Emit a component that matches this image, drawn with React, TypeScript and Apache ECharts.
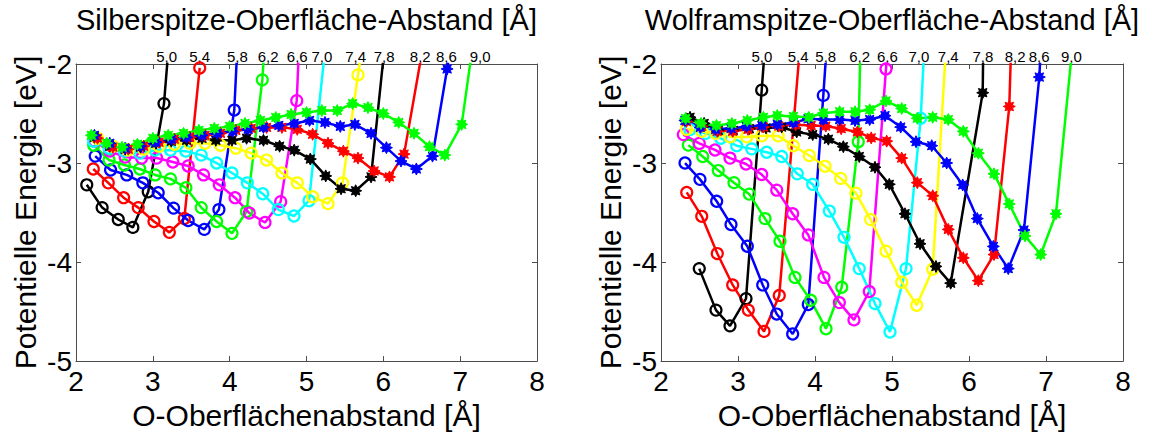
import React, { useEffect, useRef } from 'react';
import * as echarts from 'echarts';

type P = [number, number][];

// Tip–surface distances (curve labels) and styling per curve
const tipLabels = ['5,0', '5,4', '5,8', '6,2', '6,6', '7,0', '7,4', '7,8', '8,2', '8,6', '9,0'];
const curveColors = ['#000000', '#ff0000', '#0000ff', '#00ff00', '#ff00ff', '#00ffff', '#ffff00', '#000000', '#ff0000', '#0000ff', '#00ff00'];
const curveMarkers = ['o', 'o', 'o', 'o', 'o', 'o', 'o', '*', '*', '*', '*'];

// Silver tip (left panel): [O–surface distance Å, energy eV]
const ag50: P = [[2.14, -3.22], [2.34, -3.45], [2.55, -3.57], [2.74, -3.65], [2.94, -3.29], [3.145, -2.4], [3.24, -1.5]];
const ag54: P = [[2.225, -3.06], [2.42, -3.2], [2.62, -3.35], [2.81, -3.45], [3.015, -3.59], [3.215, -3.7], [3.41, -3.56], [3.61, -2.04]];
const ag58: P = [[2.25, -2.93], [2.45, -3.07], [2.66, -3.12], [2.87, -3.2], [3.07, -3.3], [3.27, -3.455], [3.46, -3.58], [3.67, -3.67], [3.86, -3.47], [4.06, -2.465], [4.12, -1.5]];
const ag62: P = [[2.23, -2.82], [2.43, -2.97], [2.63, -3.02], [2.83, -3.06], [3.03, -3.12], [3.23, -3.16], [3.43, -3.25], [3.63, -3.45], [3.83, -3.59], [4.03, -3.71], [4.22, -3.49], [4.425, -2.16], [4.48, -1.5]];
const ag66: P = [[2.24, -2.78], [2.44, -2.88], [2.64, -2.94], [2.855, -2.95], [3.05, -2.95], [3.26, -2.99], [3.46, -3.03], [3.66, -3.12], [3.865, -3.22], [4.07, -3.35], [4.256, -3.505], [4.46, -3.6], [4.664, -3.39], [4.873, -2.37], [4.92, -1.5]];
const ag70: P = [[2.23, -2.78], [2.43, -2.85], [2.63, -2.88], [2.83, -2.9], [3.03, -2.87], [3.23, -2.87], [3.43, -2.88], [3.63, -2.92], [3.83, -3.0], [4.03, -3.1], [4.23, -3.2], [4.43, -3.31], [4.633, -3.47], [4.837, -3.535], [5.033, -3.38], [5.29, -1.5]];
const ag74: P = [[2.28, -2.75], [2.48, -2.83], [2.68, -2.87], [2.88, -2.86], [3.08, -2.83], [3.28, -2.81], [3.48, -2.8], [3.68, -2.8], [3.88, -2.82], [4.08, -2.85], [4.28, -2.9], [4.48, -2.97], [4.68, -3.1], [4.88, -3.2], [5.08, -3.34], [5.28, -3.41], [5.47, -3.2], [5.67, -2.11], [5.79, -1.5]];
const ag78: P = [[2.24, -2.74], [2.44, -2.83], [2.64, -2.86], [2.84, -2.84], [3.04, -2.8], [3.24, -2.78], [3.44, -2.77], [3.64, -2.75], [3.82, -2.77], [4.03, -2.77], [4.22, -2.75], [4.44, -2.77], [4.65, -2.83], [4.84, -2.87], [5.05, -2.96], [5.25, -3.13], [5.45, -3.26], [5.64, -3.28], [5.84, -3.14], [6.06, -1.5]];
const ag82: P = [[2.28, -2.75], [2.48, -2.84], [2.68, -2.86], [2.88, -2.83], [3.08, -2.79], [3.28, -2.76], [3.48, -2.74], [3.68, -2.72], [3.88, -2.7], [4.08, -2.67], [4.28, -2.65], [4.48, -2.64], [4.68, -2.64], [4.88, -2.66], [5.08, -2.71], [5.28, -2.8], [5.48, -2.88], [5.67, -2.95], [5.88, -3.08], [6.08, -3.14], [6.27, -2.91], [6.59, -1.5]];
const ag86: P = [[2.24, -2.72], [2.44, -2.8], [2.64, -2.85], [2.84, -2.83], [3.04, -2.79], [3.24, -2.76], [3.44, -2.74], [3.64, -2.72], [3.84, -2.7], [4.04, -2.68], [4.24, -2.66], [4.44, -2.64], [4.64, -2.62], [4.84, -2.6], [5.04, -2.57], [5.24, -2.59], [5.44, -2.63], [5.63, -2.61], [5.84, -2.7], [6.04, -2.845], [6.23, -2.98], [6.43, -3.06], [6.64, -2.93], [6.83, -2.05], [6.95, -1.5]];
const ag90: P = [[2.2, -2.72], [2.4, -2.8], [2.6, -2.84], [2.8, -2.81], [3.0, -2.75], [3.2, -2.72], [3.4, -2.7], [3.6, -2.67], [3.8, -2.65], [4.0, -2.63], [4.2, -2.6], [4.4, -2.57], [4.6, -2.54], [4.8, -2.51], [5.0, -2.49], [5.2, -2.47], [5.4, -2.47], [5.6, -2.4], [5.8, -2.44], [6.0, -2.5], [6.2, -2.59], [6.4, -2.7], [6.6, -2.835], [6.8, -2.92], [7.02, -2.61], [7.22, -1.5]];

// Tungsten tip (right panel)
const w50: P = [[2.497, -4.066], [2.714, -4.485], [2.896, -4.644], [3.104, -4.369], [3.308, -2.264], [3.38, -1.5]];
const w54: P = [[2.334, -3.297], [2.529, -3.538], [2.731, -3.914], [2.931, -4.231], [3.134, -4.485], [3.338, -4.7], [3.536, -4.337], [3.84, -1.5]];
const w58: P = [[2.312, -3.0], [2.506, -3.165], [2.723, -3.386], [2.909, -3.621], [3.121, -3.84], [3.321, -4.231], [3.503, -4.525], [3.71, -4.726], [3.913, -4.429], [4.108, -2.317], [4.18, -1.5]];
const w62: P = [[2.355, -2.819], [2.542, -2.934], [2.744, -3.076], [2.948, -3.198], [3.147, -3.314], [3.351, -3.561], [3.545, -3.79], [3.74, -4.155], [3.944, -4.386], [4.143, -4.673], [4.347, -4.254], [4.562, -2.785], [4.6, -1.5]];
const w66: P = [[2.29, -2.713], [2.497, -2.802], [2.701, -2.868], [2.896, -2.95], [3.104, -3.01], [3.308, -3.116], [3.503, -3.274], [3.71, -3.512], [3.913, -3.726], [4.117, -4.155], [4.316, -4.409], [4.506, -4.584], [4.705, -4.297], [4.922, -2.05], [4.975, -1.5]];
const w70: P = [[2.377, -2.663], [2.581, -2.7], [2.775, -2.75], [2.983, -2.825], [3.178, -2.857], [3.373, -2.891], [3.568, -2.934], [3.77, -3.109], [3.97, -3.215], [4.186, -3.485], [4.377, -3.75], [4.575, -4.066], [4.779, -4.419], [4.974, -4.706], [5.182, -4.066], [5.373, -2.548], [5.44, -1.5]];
const w74: P = [[2.33, -2.66], [2.529, -2.68], [2.71, -2.7], [2.896, -2.736], [3.113, -2.736], [3.308, -2.726], [3.523, -2.726], [3.718, -2.825], [3.926, -2.924], [4.13, -3.033], [4.334, -3.155], [4.532, -3.304], [4.723, -3.571], [4.922, -3.89], [5.126, -4.203], [5.321, -4.436], [5.529, -4.072], [5.727, -1.5]];
const w78: P = [[2.377, -2.538], [2.56, -2.6], [2.744, -2.67], [2.939, -2.67], [3.147, -2.653], [3.364, -2.646], [3.567, -2.637], [3.762, -2.686], [3.97, -2.713], [4.173, -2.759], [4.368, -2.835], [4.575, -2.934], [4.779, -3.043], [4.965, -3.215], [5.169, -3.512], [5.364, -3.815], [5.571, -4.044], [5.762, -4.213], [6.178, -2.29], [6.19, -1.5]];
const w82: P = [[2.33, -2.58], [2.53, -2.63], [2.73, -2.68], [2.93, -2.68], [3.13, -2.66], [3.33, -2.637], [3.53, -2.627], [3.75, -2.614], [3.95, -2.62], [4.14, -2.627], [4.34, -2.653], [4.55, -2.686], [4.73, -2.746], [4.931, -2.779], [5.126, -2.95], [5.329, -3.198], [5.529, -3.33], [5.731, -3.67], [5.926, -3.957], [6.121, -4.188], [6.325, -3.924], [6.523, -2.429], [6.56, -1.5]];
const w86: P = [[2.31, -2.57], [2.51, -2.64], [2.71, -2.66], [2.91, -2.65], [3.11, -2.63], [3.31, -2.62], [3.51, -2.61], [3.72, -2.594], [3.91, -2.554], [4.11, -2.561], [4.32, -2.561], [4.52, -2.571], [4.71, -2.561], [4.909, -2.522], [5.113, -2.637], [5.312, -2.785], [5.516, -2.825], [5.71, -3.0], [5.918, -3.221], [6.108, -3.561], [6.316, -3.842], [6.51, -4.066], [6.714, -3.676], [6.913, -2.132], [6.957, -1.5]];
const w90: P = [[2.32, -2.55], [2.52, -2.6], [2.72, -2.62], [2.92, -2.6], [3.12, -2.57], [3.33, -2.538], [3.51, -2.52], [3.72, -2.53], [3.92, -2.538], [4.11, -2.495], [4.32, -2.482], [4.52, -2.482], [4.71, -2.462], [4.922, -2.373], [5.126, -2.449], [5.329, -2.548], [5.529, -2.538], [5.731, -2.561], [5.926, -2.68], [6.121, -2.901], [6.325, -3.109], [6.523, -3.413], [6.727, -3.736], [6.931, -3.924], [7.13, -3.512], [7.384, -1.5]];

const agCurves: P[] = [ag50, ag54, ag58, ag62, ag66, ag70, ag74, ag78, ag82, ag86, ag90];
const wCurves: P[] = [w50, w54, w58, w62, w66, w70, w74, w78, w82, w86, w90];

// x positions (Å) of the tip-distance labels above each panel
const agLabelX = [3.18, 3.61, 4.1, 4.5, 4.88, 5.2, 5.64, 6.01, 6.48, 6.82, 7.26];
const wLabelX = [3.31, 3.78, 4.14, 4.58, 4.94, 5.35, 5.73, 6.18, 6.6, 6.91, 7.33];

const panelTitles = ['Silberspitze-Oberfläche-Abstand [Å]', 'Wolframspitze-Oberfläche-Abstand [Å]'];
const xName = 'O-Oberflächenabstand [Å]';
const yName = 'Potentielle Energie [eV]';
const xRange = [2, 8];
const yRange = [-5, -2];

const FONT = '"Liberation Sans", Arial, Helvetica, sans-serif';
const STAR = 'path://M0,-10L2.2,-5.3L7.07,-7.07L5.3,-2.2L10,0L5.3,2.2L7.07,7.07L2.2,5.3L0,10L-2.2,5.3L-7.07,7.07L-5.3,2.2L-10,0L-5.3,-2.2L-7.07,-7.07L-2.2,-5.3Z';

const W = 1154;
const H = 435;
const grids = [
  { left: 76, top: 64, width: 461, height: 303 },
  { left: 661, top: 64, width: 462, height: 303 },
];

export default function App() {
  const ref = useRef<HTMLDivElement>(null);
  useEffect(() => {
    document.body.style.margin = '0';
    const chart = echarts.init(ref.current!, undefined, { renderer: 'svg', width: W, height: H });
    const axisLine = { show: true, lineStyle: { color: '#4d4d4d', width: 1 } };
    const tick = { show: true, inside: true, length: 5, lineStyle: { color: '#4d4d4d' } };
    const xAxes: any[] = [];
    const yAxes: any[] = [];
    grids.forEach((_, gi) => {
      xAxes.push({
        type: 'value', gridIndex: gi, min: xRange[0], max: xRange[1], interval: 1, position: 'bottom',
        axisLine, axisTick: tick, splitLine: { show: false },
        axisLabel: { fontSize: 28, color: '#000', fontFamily: FONT, margin: 6 },
        name: xName, nameLocation: 'middle', nameGap: 38,
        nameTextStyle: { fontSize: 30, color: '#000', fontFamily: FONT },
      });
      xAxes.push({
        type: 'value', gridIndex: gi, min: xRange[0], max: xRange[1], interval: 1, position: 'top',
        axisLine, axisTick: tick, splitLine: { show: false }, axisLabel: { show: false },
      });
      yAxes.push({
        type: 'value', gridIndex: gi, min: yRange[0], max: yRange[1], interval: 1, position: 'left',
        axisLine, axisTick: tick, splitLine: { show: false },
        axisLabel: { fontSize: 28, color: '#000', fontFamily: FONT, margin: 4 },
        name: yName, nameLocation: 'middle', nameGap: 36, nameRotate: 90,
        nameTextStyle: { fontSize: 30, color: '#000', fontFamily: FONT },
      });
      yAxes.push({
        type: 'value', gridIndex: gi, min: yRange[0], max: yRange[1], interval: 1, position: 'right',
        axisLine, axisTick: tick, splitLine: { show: false }, axisLabel: { show: false },
      });
    });

    const series: any[] = [];
    [agCurves, wCurves].forEach((curves, gi) => {
      curves.forEach((data, i) => {
        const c = curveColors[i];
        const isStar = curveMarkers[i] === '*';
        series.push({
          type: 'line', name: tipLabels[i], xAxisIndex: gi * 2, yAxisIndex: gi * 2,
          data, clip: true, silent: true,
          symbol: isStar ? STAR : 'circle', symbolSize: isStar ? 12 : 11, showAllSymbol: true,
          lineStyle: { color: c, width: 2.5 },
          itemStyle: isStar ? { color: c, borderColor: c, borderWidth: 1 } : { color: 'rgba(0,0,0,0)', borderColor: c, borderWidth: 2.2 },
          emphasis: { disabled: true },
        });
      });
    });

    chart.setOption({
      animation: false,
      backgroundColor: '#fff',
      grid: grids.map((g) => ({ ...g, containLabel: false })),
      xAxis: xAxes,
      yAxis: yAxes,
      series,
    });

    const graphics: any[] = [];
    grids.forEach((g, gi) => {
      graphics.push({
        type: 'text', x: g.left + g.width / 2, y: 20,
        style: { text: panelTitles[gi], fontSize: 29, fontFamily: FONT, fill: '#000', textAlign: 'center', textVerticalAlign: 'middle' },
      });
      const lx = gi === 0 ? agLabelX : wLabelX;
      lx.forEach((xv, i) => {
        const p = chart.convertToPixel({ gridIndex: gi }, [xv, yRange[1]]) as number[];
        graphics.push({
          type: 'text', x: p[0], y: 56,
          style: { text: tipLabels[i], fontSize: 15, fontFamily: FONT, fill: '#000', textAlign: 'center', textVerticalAlign: 'middle' },
        });
      });
    });
    chart.setOption({ graphic: graphics });

    return () => chart.dispose();
  }, []);
  return <div ref={ref} style={{ position: 'absolute', left: 0, top: 0, width: W, height: H }} />;
}
